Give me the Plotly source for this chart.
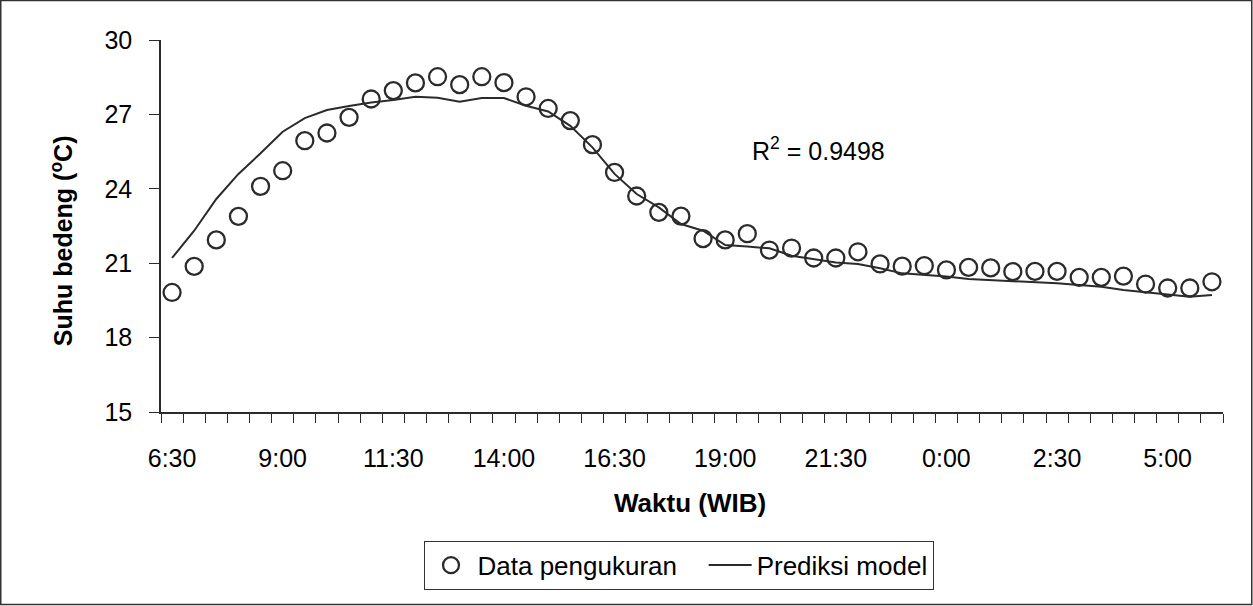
import plotly.graph_objects as go

times = ["6:30", "7:00", "7:30", "8:00", "8:30", "9:00", "9:30", "10:00", "10:30", "11:00",
         "11:30", "12:00", "12:30", "13:00", "13:30", "14:00", "14:30", "15:00", "15:30", "16:00",
         "16:30", "17:00", "17:30", "18:00", "18:30", "19:00", "19:30", "20:00", "20:30", "21:00",
         "21:30", "22:00", "22:30", "23:00", "23:30", "0:00", "0:30", "1:00", "1:30", "2:00",
         "2:30", "3:00", "3:30", "4:00", "4:30", "5:00", "5:30", "6:00"]

measured = [19.82, 20.87, 21.94, 22.89, 24.10, 24.73, 25.94, 26.25, 26.88, 27.62,
            27.96, 28.27, 28.52, 28.20, 28.52, 28.28, 27.71, 27.24, 26.75, 25.78,
            24.66, 23.71, 23.05, 22.90, 21.99, 21.94, 22.19, 21.53, 21.61, 21.21,
            21.21, 21.46, 20.97, 20.88, 20.90, 20.73, 20.83, 20.81, 20.66, 20.67,
            20.67, 20.43, 20.43, 20.48, 20.16, 20.00, 20.00, 20.25]

model = [21.21, 22.31, 23.59, 24.60, 25.43, 26.30, 26.85, 27.18, 27.34, 27.48,
         27.58, 27.71, 27.67, 27.51, 27.66, 27.66, 27.35, 27.12, 26.54, 25.67,
         24.60, 23.79, 23.25, 22.58, 22.31, 21.73, 21.67, 21.60, 21.30, 21.17,
         21.03, 20.97, 20.80, 20.59, 20.54, 20.46, 20.36, 20.32, 20.25, 20.23,
         20.19, 20.12, 20.05, 19.92, 19.82, 19.72, 19.65, 19.72]

label_every = 5
y_ticks = [15, 18, 21, 24, 27, 30]
r2_text = "R<sup>2</sup> = 0.9498"

xpos = list(range(len(times)))
font_family = "Liberation Sans, Arial, sans-serif"
ink = "#2b2b2b"

W, H = 1253, 606
ML, MR, MT, MB = 161, 30, 40, 194
PW, PH = W - ML - MR, H - MT - MB

fig = go.Figure()
fig.add_trace(go.Scatter(
    x=xpos, y=model, mode="lines", name="Prediksi model",
    line=dict(color=ink, width=2), legendrank=2))
fig.add_trace(go.Scatter(
    x=xpos, y=measured, mode="markers", name="Data pengukuran\u00a0\u00a0\u00a0",
    marker=dict(symbol="circle-open", size=17, color=ink, line=dict(width=2.3, color=ink)),
    legendrank=1))

fig.update_layout(
    width=W, height=H,
    margin=dict(l=ML, r=MR, t=MT, b=MB),
    paper_bgcolor="white", plot_bgcolor="white",
    font=dict(family=font_family, size=25, color="black"),
    showlegend=True,
    legend=dict(orientation="h", x=(678.5 - ML) / PW, xanchor="center",
                y=(412.3 - 541) / PH, yanchor="top",
                bordercolor="#333333", borderwidth=1, bgcolor="white",
                font=dict(size=26), traceorder="normal",
                itemwidth=43),
)

fig.update_xaxes(
    range=[-0.5, len(times) - 0.5],
    tickmode="array",
    tickvals=xpos[::label_every],
    ticktext=times[::label_every],
    ticks="outside", ticklen=0, ticklabelstandoff=23,
    showline=True, linecolor=ink, linewidth=1.5,
    showgrid=False, zeroline=False,
    minor=dict(tick0=-0.5, dtick=1, ticks="outside", ticklen=9, tickcolor=ink,
               tickwidth=1.3, showgrid=False),
)
fig.update_yaxes(
    range=[15, 30],
    tickmode="array", tickvals=y_ticks,
    ticks="outside", ticklen=10, tickcolor=ink, tickwidth=1.3,
    ticklabelstandoff=12,
    showline=True, linecolor=ink, linewidth=1.5,
    showgrid=False, zeroline=False,
)

# axis titles
fig.add_annotation(text="<b>Suhu bedeng (<sup>o</sup>C)</b>", textangle=-90,
                   xref="paper", yref="paper", x=(61.5 - ML) / PW, y=(412.3 - 241) / PH,
                   xanchor="center", yanchor="middle", showarrow=False,
                   font=dict(size=25, family=font_family))
fig.add_annotation(text="<b>Waktu (WIB)</b>",
                   xref="paper", yref="paper", x=(690 - ML) / PW, y=(412.3 - 503) / PH,
                   xanchor="center", yanchor="middle", showarrow=False,
                   font=dict(size=26, family=font_family))
fig.add_annotation(text=r2_text, xref="paper", yref="paper",
                   x=(750 - ML) / PW, y=(412.3 - 149) / PH,
                   xanchor="left", yanchor="middle", showarrow=False,
                   font=dict(size=25, family=font_family))

# outer frame
fig.add_shape(type="rect", xref="paper", yref="paper",
              x0=(0.75 - ML) / PW, x1=(1251.75 - ML) / PW,
              y0=(412.3 - 604.75) / PH, y1=(412.3 - 0.75) / PH,
              line=dict(color="#333333", width=1.5), layer="below")

fig.write_html("out.html", config={"displayModeBar": False},
               post_script="document.body.style.margin='0px';")
